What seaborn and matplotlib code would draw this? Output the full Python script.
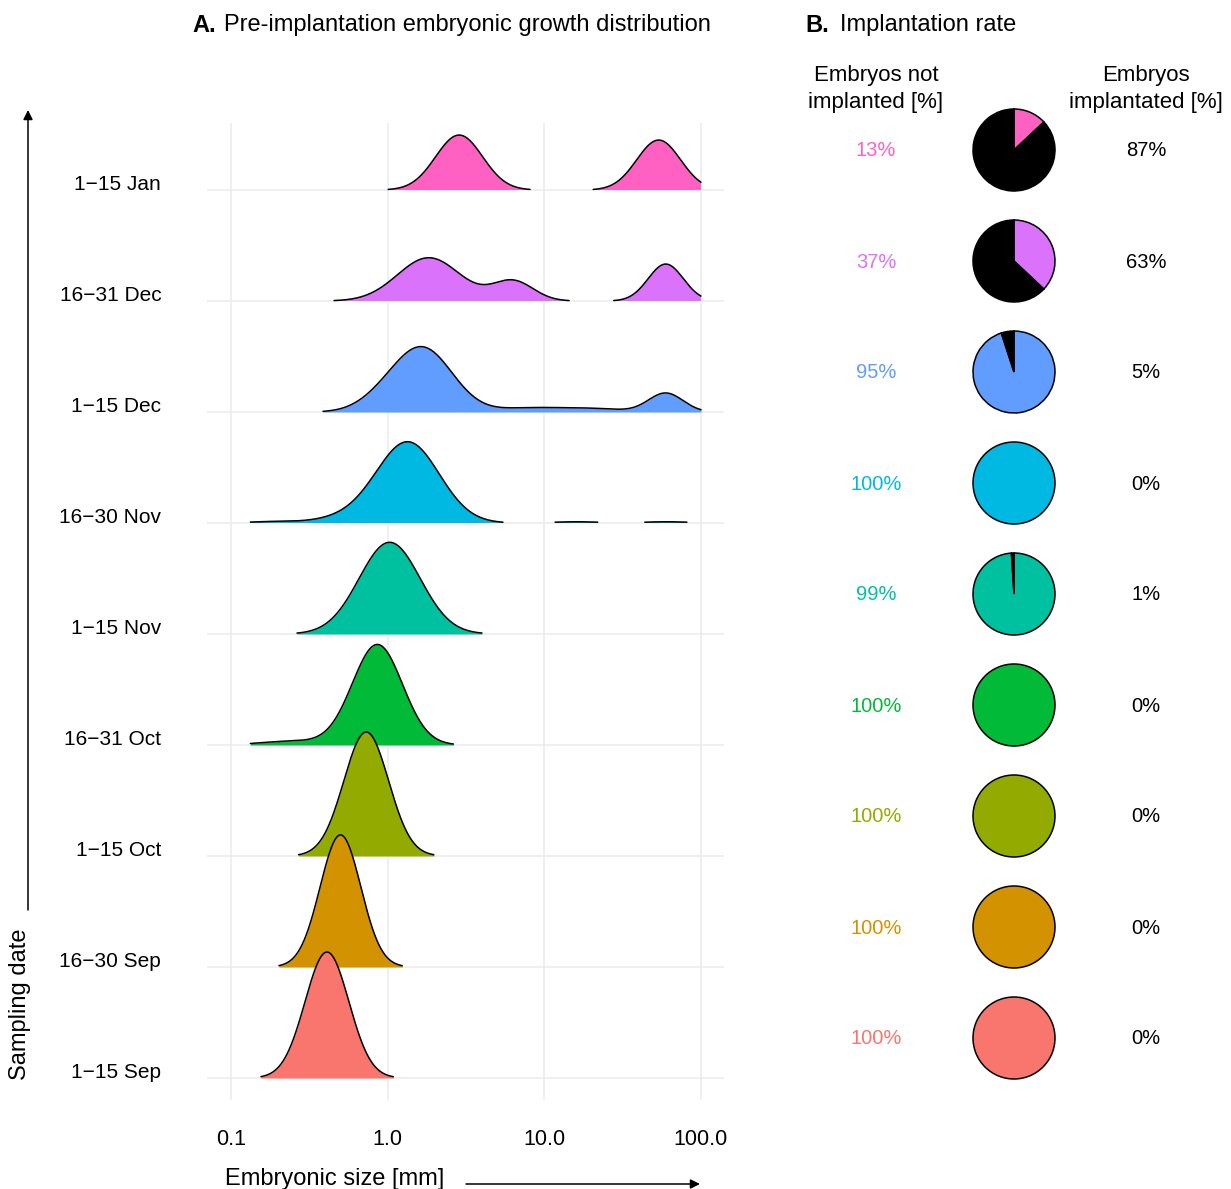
import numpy as np
import pandas as pd
import matplotlib
matplotlib.use("Agg")
import matplotlib.pyplot as plt
import seaborn as sns

# ---------------- data ----------------
dates = ["1−15 Sep", "16−30 Sep", "1−15 Oct", "16−31 Oct", "1−15 Nov",
         "16−30 Nov", "1−15 Dec", "16−31 Dec", "1−15 Jan"]
colors_hex = ["#F8766D", "#D39200", "#93AA00", "#00BA38", "#00C19F",
              "#00B9E3", "#619CFF", "#DB72FB", "#FF61C3"]
not_implanted = [100, 100, 100, 100, 99, 100, 95, 37, 13]
implanted = [0, 0, 0, 0, 1, 0, 5, 63, 87]

# density ridge components (peak size in mm,
# spread in log10 decades, peak height in ridge-row units)
peak_mm = [[0.41], [0.50], [0.73], [0.86, 0.25], [1.03],
           [1.35, 0.56, 0.18, 16.0, 60.0],
           [1.67, 0.89, 8.0, 20.0, 59.6],
           [1.83, 6.3, 59.6],
           [2.86, 53.7]]
peak_sd = [[0.14], [0.13], [0.143], [0.16, 0.2], [0.195],
           [0.2, 0.2, 0.15, 0.15, 0.15],
           [0.19, 0.15, 0.2, 0.2, 0.11],
           [0.2, 0.13, 0.112],
           [0.15, 0.14]]
peak_h = [[1.135], [1.19], [1.117], [0.905, 0.035], [0.826],
          [0.725, 0.045, 0.012, 0.011, 0.011],
          [0.575, 0.07, 0.035, 0.03, 0.17],
          [0.39, 0.18, 0.333],
          [0.495, 0.45]]
size_min, size_max = 0.133, 100.0
rel_min_height = 0.01

xticks = [0.1, 1.0, 10.0, 100.0]
xtick_labels = ["0.1", "1.0", "10.0", "100.0"]

# ---------------- style ----------------
W, H = 1231, 1189
sns.set_theme(style="white")
plt.rcParams['font.family'] = ['Liberation Sans', 'DejaVu Sans']
plt.rcParams['text.color'] = 'black'
plt.rcParams['axes.unicode_minus'] = True

fig = plt.figure(figsize=(W / 100, H / 100), dpi=100)
fig.patch.set_facecolor("white")

# ---------------- panel A: ridgelines ----------------
ax = fig.add_axes([207 / W, 1 - 1100 / H, 517 / W, 977 / H])
ax.set_xscale('log')
ax.set_xlim(0.0703, 140.3)
ax.set_ylim(-22 / 111, (1078 - 123) / 111)
for s in ax.spines.values():
    s.set_visible(False)
ax.set_xticks(xticks)
ax.set_xticklabels(xtick_labels)
ax.xaxis.set_minor_locator(matplotlib.ticker.NullLocator())
ax.set_yticks(range(len(dates)))
ax.set_yticklabels(dates, va='baseline')
ax.tick_params(axis='x', length=0, pad=21, labelsize=15.5, colors='black')
ax.tick_params(axis='y', length=0, pad=33, labelsize=15, colors='black')
ax.grid(True, color='#EBEBEB', lw=1.1)
ax.set_axisbelow(True)

logx = np.linspace(np.log10(size_min), np.log10(size_max), 900)
xs = 10 ** logx
n = len(dates)
for i in reversed(range(n)):
    dens = np.zeros_like(logx)
    for c, s, h in zip(peak_mm[i], peak_sd[i], peak_h[i]):
        dens += h * np.exp(-0.5 * ((logx - np.log10(c)) / s) ** 2)
    mask = dens >= rel_min_height * dens.max()
    z = 3 + (n - i) * 2
    ax.fill_between(xs, i, i + dens, where=mask, color=colors_hex[i],
                    lw=0, zorder=z)
    # outline segments
    seg = np.cumsum(np.r_[1, np.diff(mask.astype(int)) != 0])
    df = pd.DataFrame({"x": xs[mask], "y": (i + dens)[mask], "seg": seg[mask]})
    sns.lineplot(data=df, x="x", y="y", units="seg", estimator=None,
                 sort=False, color="black", lw=1.1, ax=ax, legend=False,
                 zorder=z + 1)
ax.set_xlabel("")
ax.set_ylabel("")

# ---------------- overlay (panel B + annotations) ----------------
ov = fig.add_axes([0, 0, 1, 1], zorder=5)
ov.patch.set_alpha(0)

pie_x = 1014
for i in range(n):
    cy = H - (1038 - 111 * i)
    vals, cols = [], []
    for v, c in zip([not_implanted[i], implanted[i]], [colors_hex[i], "black"]):
        if v > 0:
            vals.append(v)
            cols.append(c)
    ov.pie(vals, colors=cols, startangle=90, counterclock=False,
           center=(pie_x, cy), radius=41,
           wedgeprops=dict(edgecolor="black", linewidth=1.1))
    ov.text(876, cy + 1, f"{not_implanted[i]}%", color=colors_hex[i],
            fontsize=14.5, ha='center', va='center_baseline')
    ov.text(1146, cy + 1, f"{implanted[i]}%", color="black",
            fontsize=14.5, ha='center', va='center_baseline')

ov.set_xlim(0, W)
ov.set_ylim(0, H)
ov.set_aspect('auto')
ov.axis('off')

# titles
ov.text(192, H - 23, "A.", fontsize=17, fontweight='bold', ha='left', va='center_baseline')
ov.text(224, H - 23, "Pre-implantation embryonic growth distribution",
        fontsize=17, ha='left', va='center_baseline')
ov.text(805, H - 23, "B.", fontsize=17, fontweight='bold', ha='left', va='center_baseline')
ov.text(840, H - 23, "Implantation rate", fontsize=17, ha='left', va='center_baseline')
ov.text(876, H - 89, "Embryos not\nimplanted [%]", fontsize=16,
        ha='center', va='center', linespacing=1.38)
ov.text(1146, H - 89, "Embryos\nimplantated [%]", fontsize=16,
        ha='center', va='center', linespacing=1.38)

# axis labels and arrows
ov.text(335, H - 1176, "Embryonic size [mm]", fontsize=17, ha='center', va='center_baseline')
ov.annotate('', xy=(700, H - 1184), xytext=(466, H - 1184),
            arrowprops=dict(arrowstyle='-|>', color='black', lw=1.1,
                            mutation_scale=14, shrinkA=0, shrinkB=0))
ov.text(20, H - 1004, "Sampling date", fontsize=17, rotation=90,
        ha='center', va='center')
ov.annotate('', xy=(28, H - 110), xytext=(28, H - 910),
            arrowprops=dict(arrowstyle='-|>', color='black', lw=1.1,
                            mutation_scale=14, shrinkA=0, shrinkB=0))

fig.savefig("out.png", dpi=100, facecolor="white")
